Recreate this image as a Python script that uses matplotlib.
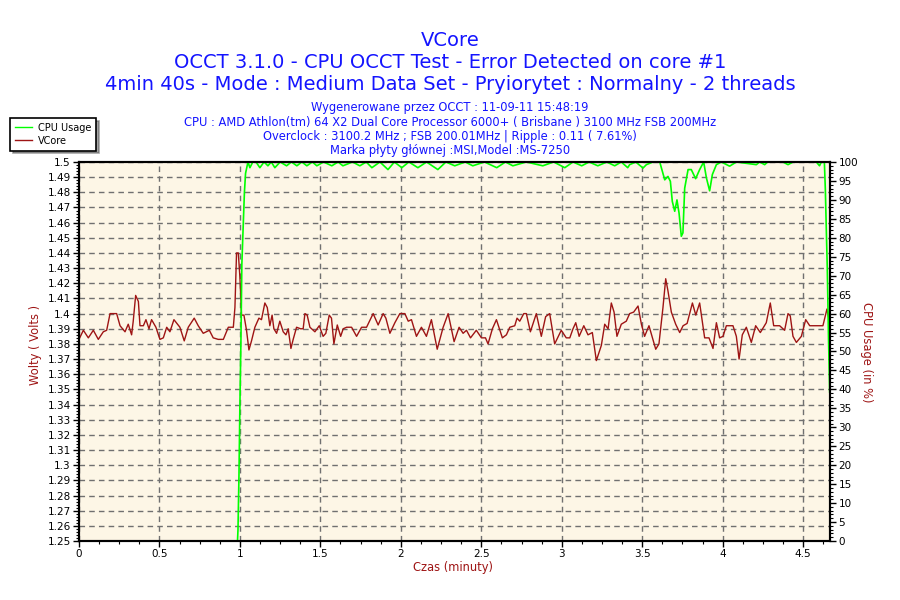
import numpy as np
import matplotlib
matplotlib.use("Agg")
import matplotlib.pyplot as plt
from matplotlib.ticker import MultipleLocator, FuncFormatter
from matplotlib.lines import Line2D

# VCore samples (time in minutes, volts)
vcore_t = [0, 0.027, 0.058, 0.089, 0.12, 0.151, 0.172, 0.193, 0.234, 0.255, 0.286, 0.306,
           0.327, 0.337, 0.352, 0.369, 0.379, 0.4, 0.416, 0.435, 0.451, 0.478, 0.503, 0.524,
           0.545, 0.565, 0.59, 0.627, 0.654, 0.679, 0.716, 0.741, 0.772, 0.81, 0.834, 0.865,
           0.897, 0.928, 0.959, 0.969, 0.979, 0.99, 1.0, 1.01, 1.025, 1.041, 1.056, 1.072,
           1.093, 1.118, 1.134, 1.155, 1.17, 1.186, 1.2, 1.211, 1.228, 1.248, 1.269, 1.286,
           1.3, 1.317, 1.331, 1.352, 1.377, 1.393, 1.404, 1.418, 1.435, 1.466, 1.493,
           1.517, 1.534, 1.555, 1.569, 1.584, 1.605, 1.626, 1.642, 1.663, 1.694, 1.725, 1.756,
           1.787, 1.828, 1.859, 1.89, 1.907, 1.932, 1.963, 1.994, 2.025, 2.046, 2.066, 2.097,
           2.128, 2.159, 2.19, 2.226, 2.263, 2.294, 2.331, 2.362, 2.387, 2.408, 2.433, 2.469,
           2.501, 2.526, 2.542, 2.569, 2.594, 2.631, 2.656, 2.677, 2.708, 2.722, 2.739, 2.764,
           2.78, 2.805, 2.842, 2.873, 2.9, 2.925, 2.956, 2.997, 3.028,
           3.05, 3.07, 3.087, 3.108, 3.137, 3.163, 3.19, 3.215, 3.246, 3.267, 3.288, 3.308,
           3.325, 3.343, 3.37, 3.401, 3.422, 3.447, 3.474, 3.495, 3.515, 3.542, 3.584, 3.604,
           3.629, 3.646, 3.66, 3.681, 3.708, 3.733, 3.754, 3.779, 3.812, 3.833, 3.857, 3.888,
           3.915, 3.94, 3.961, 3.981, 4.002, 4.023, 4.064, 4.085, 4.102, 4.122, 4.147, 4.178,
           4.205, 4.234, 4.271, 4.296, 4.317, 4.354, 4.385, 4.406, 4.42, 4.437, 4.458, 4.489,
           4.516, 4.541, 4.623, 4.648, 4.665]
vcore_v = [1.383, 1.389, 1.384, 1.389, 1.383, 1.388, 1.389, 1.400, 1.400, 1.392, 1.388, 1.393,
           1.386, 1.395, 1.412, 1.408, 1.392, 1.392, 1.396, 1.390, 1.396, 1.391, 1.383, 1.384,
           1.391, 1.388, 1.396, 1.391, 1.382, 1.391, 1.397, 1.392, 1.387, 1.389, 1.384, 1.383,
           1.383, 1.391, 1.391, 1.404, 1.440, 1.440, 1.424, 1.399, 1.399, 1.389, 1.376, 1.382,
           1.391, 1.397, 1.396, 1.407, 1.404, 1.392, 1.399, 1.390, 1.387, 1.395, 1.388, 1.386,
           1.390, 1.377, 1.383, 1.391, 1.390, 1.390, 1.400, 1.399, 1.391, 1.388, 1.392,
           1.385, 1.387, 1.399, 1.397, 1.380, 1.3925, 1.385, 1.390, 1.391, 1.391, 1.385, 1.391,
           1.391, 1.400, 1.3925, 1.400, 1.397, 1.387, 1.394, 1.400, 1.400, 1.395, 1.396, 1.385,
           1.391, 1.385, 1.396, 1.3765, 1.391, 1.400, 1.3815, 1.391, 1.387, 1.389, 1.384, 1.389,
           1.384, 1.384, 1.380, 1.390, 1.396, 1.384, 1.386, 1.391, 1.392, 1.397, 1.395, 1.400,
           1.400, 1.388, 1.400, 1.385, 1.398, 1.400, 1.380, 1.389, 1.384,
           1.384, 1.390, 1.394, 1.385, 1.392, 1.386, 1.3875, 1.369, 1.379, 1.393, 1.390, 1.407,
           1.401, 1.385, 1.393, 1.395, 1.400, 1.401, 1.405, 1.393, 1.385, 1.392, 1.3765, 1.380,
           1.404, 1.423, 1.415, 1.401, 1.393, 1.3875, 1.392, 1.3935, 1.407, 1.399, 1.407, 1.384,
           1.384, 1.377, 1.394, 1.384, 1.385, 1.392, 1.392, 1.385, 1.370, 1.386, 1.391, 1.381,
           1.392, 1.3875, 1.394, 1.407, 1.392, 1.392, 1.389, 1.400, 1.3985, 1.385, 1.381, 1.385,
           1.396, 1.392, 1.392, 1.403, 1.394]

# CPU usage samples (time in minutes, percent)
cpu_t = [0, 0.985, 0.988, 0.994, 1.0, 1.006, 1.012, 1.022, 1.028, 1.035, 1.05, 1.062, 1.08,
         1.1, 1.124, 1.15, 1.174, 1.195, 1.217, 1.25, 1.29, 1.32, 1.354, 1.385, 1.416, 1.45,
         1.478, 1.52, 1.571, 1.61, 1.64, 1.7, 1.745, 1.785, 1.82, 1.87, 1.92, 1.96, 2.006,
         2.05, 2.106, 2.16, 2.23, 2.28, 2.335, 2.4, 2.447, 2.52, 2.596, 2.65, 2.696, 2.78,
         2.882, 2.95, 3.019, 3.07, 3.124, 3.17, 3.224, 3.28, 3.329, 3.37, 3.41, 3.422, 3.46,
         3.505, 3.526, 3.567, 3.609, 3.64, 3.66, 3.675, 3.687, 3.702, 3.716, 3.729, 3.743,
         3.753, 3.764, 3.785, 3.805, 3.832, 3.857, 3.882, 3.899, 3.919, 3.936, 3.961, 3.992,
         4.043, 4.085, 4.209, 4.23, 4.261, 4.28, 4.375, 4.406, 4.437, 4.582, 4.602, 4.613,
         4.632, 4.638, 4.644, 4.65, 4.658, 4.665]
cpu_v = [0, 0, 3, 17, 36, 52, 73, 85, 92, 97, 100, 98.5, 100,
         100, 98.5, 100, 99, 100, 98.5, 100, 99, 100, 99, 100, 99, 100,
         99, 100, 99, 100, 99, 100, 99, 100, 98.5, 100, 98, 100, 98.5,
         100, 98.5, 100, 98, 100, 99, 100, 99, 100, 98.5, 100, 99, 100,
         99, 100, 98.5, 100, 99, 100, 99, 100, 99, 100, 98.5, 99.3, 100,
         98.4, 99.3, 100, 100, 95.3, 96.2, 94.9, 89.6, 87, 90, 86.5, 80.4,
         81.3, 93.1, 98, 98, 95.6, 98, 100, 95.8, 92.4, 96.7, 99.3, 100,
         98.9, 100, 99.3, 100, 99.3, 100, 100, 99.3, 100, 100, 99, 100,
         100, 92.8, 82.3, 72.2, 52.9, 39.3]

title_lines = ["VCore",
               "OCCT 3.1.0 - CPU OCCT Test - Error Detected on core #1",
               "4min 40s - Mode : Medium Data Set - Pryiorytet : Normalny - 2 threads"]
info_lines = ["Wygenerowane przez OCCT : 11-09-11 15:48:19",
              "CPU : AMD Athlon(tm) 64 X2 Dual Core Processor 6000+ ( Brisbane ) 3100 MHz FSB 200MHz",
              "Overclock : 3100.2 MHz ; FSB 200.01MHz | Ripple : 0.11 ( 7.61%)",
              "Marka płyty głównej :MSI,Model :MS-7250"]

BLUE = "#1414ff"
RED = "#9e1414"
GREEN = "#00ff00"

fig = plt.figure(figsize=(9, 6), dpi=100)
ax = fig.add_axes([79 / 900, 59 / 600, 751 / 900, 379 / 600])
ax.set_facecolor("#fdf6e6")

ax.plot(vcore_t, vcore_v, color=RED, lw=1.0, zorder=3)
ax.set_xlim(0, 4.667)
ax.set_ylim(1.25, 1.5)

ax2 = ax.twinx()
ax2.plot(cpu_t, cpu_v, color=GREEN, lw=1.2)
ax2.set_ylim(0, 100)

fmt = FuncFormatter(lambda v, p: f"{v:g}")
ax.xaxis.set_major_locator(MultipleLocator(0.5))
ax.xaxis.set_minor_locator(MultipleLocator(0.125))
ax.yaxis.set_major_locator(MultipleLocator(0.01))
ax.yaxis.set_minor_locator(MultipleLocator(0.002))
ax.xaxis.set_major_formatter(fmt)
ax.yaxis.set_major_formatter(fmt)
ax2.yaxis.set_major_locator(MultipleLocator(5))
ax2.yaxis.set_minor_locator(MultipleLocator(1))

for a in (ax, ax2):
    a.tick_params(which="major", length=4, width=1, labelsize=7.5, pad=2, colors="black")
    a.tick_params(which="minor", length=2, width=0.8)
    for s in a.spines.values():
        s.set_linewidth(1.5)
        s.set_color("black")

ax.grid(True, which="major", color="#707070", linestyle=(0, (4, 3)), linewidth=1)

# titles
for i, line in enumerate(title_lines):
    fig.text(0.5, 1 - (40 + 22 * i) / 600, line, ha="center", va="center",
             fontsize=14, color=BLUE)
for i, line in enumerate(info_lines):
    fig.text(0.5, 1 - (108 + 14.3 * i) / 600, line, ha="center", va="center",
             fontsize=8.3, color=BLUE)

fig.text(35 / 900, 1 - 345 / 600, "Wolty ( Volts )", rotation=90, ha="center",
         va="center", fontsize=8.3, color=RED)
fig.text(866 / 900, 1 - 352 / 600, "CPU Usage (in %)", rotation=270, ha="center",
         va="center", fontsize=8.3, color=RED)
fig.text(453 / 900, 1 - 568 / 600, "Czas (minuty)", ha="center", va="center",
         fontsize=8.3, color=RED)

handles = [Line2D([], [], color=GREEN, lw=1), Line2D([], [], color=RED, lw=1)]
leg = fig.legend(handles, ["CPU Usage", "VCore"], loc="upper left",
                 bbox_to_anchor=(10 / 900, 1 - 118 / 600), fontsize=7, frameon=True,
                 fancybox=False, shadow=True, borderaxespad=0, handlelength=1.8,
                 labelspacing=0.3, borderpad=0.5, handletextpad=0.6)
leg.get_frame().set_edgecolor("black")
leg.get_frame().set_linewidth(1.2)

fig.savefig("out.png", dpi=100)
